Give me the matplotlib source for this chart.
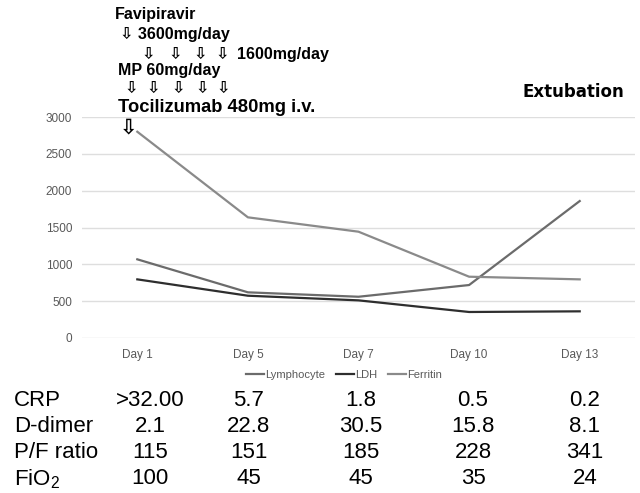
import numpy as np
import matplotlib
matplotlib.use('Agg')
import matplotlib.pyplot as plt

# data
days = ['Day 1', 'Day 5', 'Day 7', 'Day 10', 'Day 13']
lymphocyte = [1068, 620, 560, 719, 1859]
ldh = [796, 574, 511, 353, 362]
ferritin = [2800, 1638, 1443, 832, 796]

row_names = ['CRP', 'D-dimer', 'P/F ratio', 'FiO$_2$']
crp = ['>32.00', '5.7', '1.8', '0.5', '0.2']
ddimer = ['2.1', '22.8', '30.5', '15.8', '8.1']
pf_ratio = ['115', '151', '185', '228', '341']
fio2 = ['100', '45', '45', '35', '24']

plt.rcParams['font.family'] = ['Liberation Sans', 'DejaVu Sans']
plt.rcParams['mathtext.fontset'] = 'custom'
plt.rcParams['mathtext.rm'] = 'Liberation Sans'

W, H = 640, 493
fig = plt.figure(figsize=(6.4, 4.93), dpi=100)
ax = fig.add_axes([82/W, 1-338/H, 553/W, 221/H])

x = np.arange(len(days))
ax.plot(x, lymphocyte, color='#6b6b6b', lw=1.6, label='Lymphocyte')
ax.plot(x, ldh, color='#2e2e2e', lw=1.6, label='LDH')
ax.plot(x, ferritin, color='#8a8a8a', lw=1.6, label='Ferritin')

ax.set_xlim(-0.5, 4.5)
ax.set_ylim(0, 3000)
ax.set_yticks([0, 500, 1000, 1500, 2000, 2500, 3000])
ax.set_xticks(x)
ax.set_xticklabels(days)
ax.grid(axis='y', color='#dedede', lw=1)
ax.set_axisbelow(True)
for s in ax.spines.values():
    s.set_visible(False)
ax.tick_params(length=0, labelsize=8.5, labelcolor='#595959')
ax.tick_params(axis='x', pad=8)
ax.tick_params(axis='y', pad=7)

leg = fig.legend(loc='center', bbox_to_anchor=(344/W, 1-375/H), ncol=3, frameon=False,
                 fontsize=8, handlelength=1.6, handletextpad=0.1, columnspacing=1.0)
for t in leg.get_texts():
    t.set_color('#595959')

# annotations above the plot
def ftxt(px, py, s, **kw):
    fig.text(px/W, 1-py/H, s, va='center', **kw)

bold = dict(fontweight='bold', fontsize=11.5, family=['Liberation Sans', 'DejaVu Sans'])
arrow = '\u21e9'
ftxt(115, 15, 'Favipiravir', **bold)
ftxt(120, 35, arrow + ' 3600mg/day', **bold)
for xa in [148, 175, 200, 222]:
    fig.text(xa/W, 1-54/H, arrow, va='center', ha='center', **bold)
ftxt(237, 54, '1600mg/day', **bold)
ftxt(118, 70, 'MP 60mg/day', **bold)
for xa in [131, 153, 178, 202, 223]:
    fig.text(xa/W, 1-88/H, arrow, va='center', ha='center', **bold)
ftxt(118, 108, 'Tocilizumab 480mg i.v.', fontweight='bold', fontsize=13.2,
     family=['Liberation Sans', 'DejaVu Sans'])
fig.text(129/W, 1-127/H, arrow, va='center', ha='center', fontweight='bold',
         fontsize=15, family=['DejaVu Sans'])
ftxt(522, 92, 'Extubation', fontweight='bold', fontsize=12, family=['DejaVu Sans'])

# table below the chart
rows = [crp, ddimer, pf_ratio, fio2]
row_y = [400, 426, 453, 479]
col_x = [150, 249, 361, 473, 585]
for name, vals, yy in zip(row_names, rows, row_y):
    ftxt(14, yy, name, fontsize=16)
    for v, xx in zip(vals, col_x):
        fig.text(xx/W, 1-yy/H, v, va='center', ha='center', fontsize=16)

fig.savefig('out.png', dpi=100)
